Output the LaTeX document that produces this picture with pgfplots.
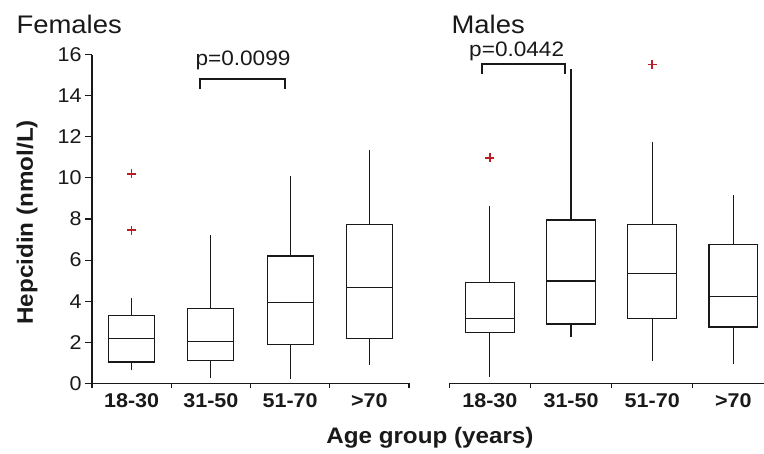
\documentclass[border=0pt]{standalone}
\usepackage{fontspec}
\setmainfont{Liberation Sans}[FakeStretch=1.08]
\usepackage{pgfplots}
\pgfplotsset{compat=1.18}
\usepgfplotslibrary{statistics}
\definecolor{outred}{RGB}{185,30,35}
\definecolor{ink}{RGB}{25,25,25}
\tikzset{ttl/.style={font=\fontsize{25.5}{30}\selectfont, text=ink, anchor=west}}
\pgfplotsset{
 common/.style={
  scale only axis, ymin=0, ymax=16, height=328.6bp,
  /pgf/number format/assume math mode=true,
  tick align=outside,
  axis line style={ink, line width=1.1bp},
  every tick/.style={ink, line width=1.1bp},
  xtick={1,2,3,4}, xticklabels={18-30,31-50,51-70,{>70}},
  minor xtick={0.5,1.5,2.5,3.5,4.5},
  major x tick style={draw=none},
  minor tick length=5bp,
  major tick length=7bp,
  xticklabel style={font=\fontsize{20}{24}\selectfont\bfseries, text=ink},
  yticklabel style={font=\fontsize{20}{24}\selectfont, text=ink},
  boxplot/draw direction=y,
  boxplot/whisker extend=0,
  clip=false,
 },
 bx/.style={draw=ink, line width=1.2bp, solid, mark=none},
 out/.style={only marks, color=outred, mark=+, mark size=4.5bp, line width=1.5bp, mark options={draw=outred, solid}},
}
\begin{document}
\begin{tikzpicture}
\useasboundingbox (0,0) rectangle (764bp,454bp);
% ---------------- Females ----------------
\begin{axis}[common, at={(92bp,70.7bp)}, anchor=south west, width=317bp,
  xmin=0.5, xmax=4.5,
  axis x line*=bottom, axis y line*=left, ytick={0,2,...,16},
  boxplot/box extend=0.58,
  title={Females}, title style={ttl, at={(axis description cs:-0.249,1.075)}},
  ylabel={Hepcidin (nmol/L)},
  ylabel style={at={(axis description cs:-0.205,0.49)}, anchor=center,
    font=\fontsize{22.5}{27}\selectfont\bfseries, text=ink},
  xlabel={Age group (years)},
  xlabel style={at={(axis description cs:1.066,-0.166)}, anchor=center,
    font=\fontsize{22.5}{27}\selectfont\bfseries, text=ink},
]
\addplot[bx, boxplot prepared={draw position=1, lower whisker=0.67, lower quartile=1.04, median=2.18, upper quartile=3.32, upper whisker=4.16}] coordinates {};
\addplot[bx, boxplot prepared={draw position=2, lower whisker=0.24, lower quartile=1.12, median=2.04, upper quartile=3.65, upper whisker=7.20}] coordinates {};
\addplot[bx, boxplot prepared={draw position=3, lower whisker=0.19, lower quartile=1.90, median=3.94, upper quartile=6.20, upper whisker=10.09}] coordinates {};
\addplot[bx, boxplot prepared={draw position=4, lower whisker=0.88, lower quartile=2.17, median=4.65, upper quartile=7.72, upper whisker=11.34}] coordinates {};
\addplot[out] coordinates {(1,10.2) (1,7.46)};
\draw[ink, line width=2bp] (axis cs:1.863,14.33) -- (axis cs:1.863,14.8) -- (axis cs:2.935,14.8) -- (axis cs:2.935,14.33);
\node[font=\fontsize{21}{25}\selectfont, text=ink] at (axis cs:2.405,15.7) {p=0.0099};
\end{axis}
% ---------------- Males ----------------
\begin{axis}[common, at={(449.3bp,70.7bp)}, anchor=south west, width=314.7bp,
  xmin=0.5, xmax=4.377,
  axis x line*=bottom, axis y line=none, ytick=\empty,
  boxplot/box extend=0.6,
  title={Males}, title style={ttl, at={(axis description cs:-0.004,1.075)}},
]
\addplot[bx, boxplot prepared={draw position=1, lower whisker=0.32, lower quartile=2.46, median=3.15, upper quartile=4.92, upper whisker=8.65}] coordinates {};
\addplot[bx, boxplot prepared={draw position=2, lower whisker=2.27, lower quartile=2.89, median=4.98, upper quartile=7.95, upper whisker=15.29}] coordinates {};
\addplot[bx, boxplot prepared={draw position=3, lower whisker=1.09, lower quartile=3.16, median=5.34, upper quartile=7.72, upper whisker=11.76}] coordinates {};
\addplot[bx, boxplot prepared={draw position=4, lower whisker=0.95, lower quartile=2.74, median=4.24, upper quartile=6.75, upper whisker=9.17}] coordinates {};
\addplot[out] coordinates {(1,10.98) (3,15.53)};
\draw[ink, line width=2bp] (axis cs:0.899,15.06) -- (axis cs:0.899,15.53) -- (axis cs:1.925,15.53) -- (axis cs:1.925,15.06);
\node[font=\fontsize{21}{25}\selectfont, text=ink] at (axis cs:1.33,16.15) {p=0.0442};
\end{axis}
\end{tikzpicture}
\end{document}
